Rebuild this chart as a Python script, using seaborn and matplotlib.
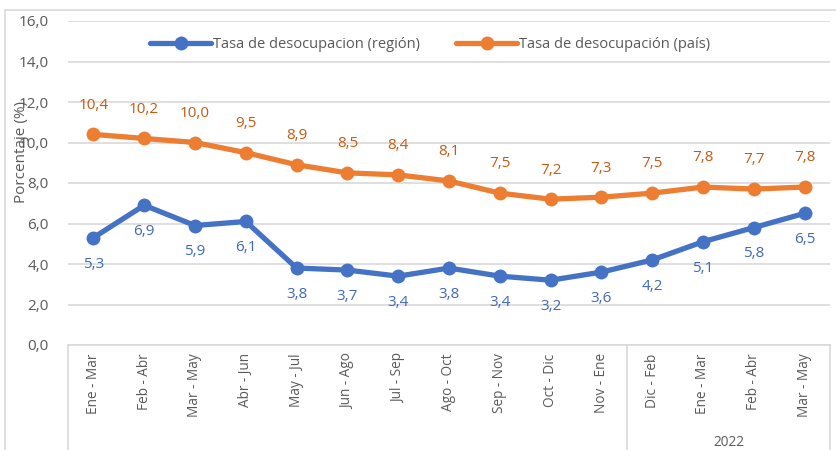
import matplotlib
matplotlib.use("Agg")
import matplotlib.pyplot as plt
import seaborn as sns
import pandas as pd
import numpy as np
from matplotlib.lines import Line2D

categories = ["Ene - Mar", "Feb - Abr", "Mar - May", "Abr - Jun", "May - Jul", "Jun - Ago",
              "Jul - Sep", "Ago - Oct", "Sep - Nov", "Oct - Dic", "Nov - Ene", "Dic - Feb",
              "Ene - Mar", "Feb - Abr", "Mar - May"]
region = [5.3, 6.9, 5.9, 6.1, 3.8, 3.7, 3.4, 3.8, 3.4, 3.2, 3.6, 4.2, 5.1, 5.8, 6.5]
pais = [10.4, 10.2, 10.0, 9.5, 8.9, 8.5, 8.4, 8.1, 7.5, 7.2, 7.3, 7.5, 7.8, 7.7, 7.8]
series_names = ["Tasa de desocupacion (región)", "Tasa de desocupación (país)"]
group_label = "2022"
group_start = 11
yticks = [0, 2, 4, 6, 8, 10, 12, 14, 16]

BLUE = "#4472C4"
ORANGE = "#ED7D31"
TXT = "#595959"
GRID = "#D9D9D9"

sns.set_theme(style="white")
plt.rcParams["font.family"] = ["Open Sans", "DejaVu Sans"]

idx = np.arange(len(categories))
df = pd.DataFrame({
    "x": np.concatenate([idx, idx]),
    "valor": region + pais,
    "serie": [series_names[0]] * len(idx) + [series_names[1]] * len(idx),
})

fig = plt.figure(figsize=(8.36, 4.5), dpi=100)
ax = fig.add_axes([68/836, 1-345/450, (830-68)/836, (345-21)/450])

sns.lineplot(data=df, x="x", y="valor", hue="serie",
             palette={series_names[0]: BLUE, series_names[1]: ORANGE},
             marker="o", markersize=10, markeredgewidth=0, linewidth=3.8,
             ax=ax, legend=False, zorder=3)

ax.set_xlim(-0.5, len(categories) - 0.5)
ax.set_ylim(0, 16)
ax.set_yticks(yticks)
ax.set_yticklabels([f"{v:.1f}".replace(".", ",") for v in yticks], color=TXT, fontsize=11)
ax.yaxis.grid(True, color=GRID, linewidth=1.2)
ax.set_axisbelow(True)
ax.tick_params(axis="y", length=0, pad=14)
ax.set_xticks(idx)
ax.set_xticklabels(categories, rotation=90, color=TXT, fontsize=9.8, va="top")
ax.tick_params(axis="x", length=0, pad=6)
ax.set_xlabel("")
ax.set_ylabel("")
for s in ["top", "right", "left"]:
    ax.spines[s].set_visible(False)
ax.spines["bottom"].set_color(GRID)
ax.spines["bottom"].set_linewidth(1.2)

# data labels
for i, v in enumerate(region):
    ax.annotate(f"{v:.1f}".replace(".", ","), (i, v), xytext=(0, -19), textcoords="offset points",
                ha="center", va="center", color="#3F69B5", fontsize=11)
for i, v in enumerate(pais):
    ax.annotate(f"{v:.1f}".replace(".", ","), (i, v), xytext=(0, 21), textcoords="offset points",
                ha="center", va="center", color="#C55A11", fontsize=11)

# category group lines
trans = ax.get_xaxis_transform()
for xv in [-0.5, group_start - 0.5, len(categories) - 0.5]:
    ax.plot([xv, xv], [0, -0.5], transform=trans, color=GRID, linewidth=1.2, clip_on=False)
ax.text((group_start + len(categories) - 1) / 2, -(442-345)/324, group_label, transform=trans,
        ha="center", va="center", color=TXT, fontsize=9.8)

# legend
handles = [Line2D([0], [0], color=BLUE, lw=3.8, marker="o", markersize=10, markeredgewidth=0),
           Line2D([0], [0], color=ORANGE, lw=3.8, marker="o", markersize=10, markeredgewidth=0)]
leg = ax.legend(handles, series_names, loc="center", bbox_to_anchor=(430/836, 1-45/450),
                bbox_transform=fig.transFigure, ncol=2, frameon=False, fontsize=10.5,
                handlelength=4.2, handletextpad=0.1, columnspacing=2.5)
for t in leg.get_texts():
    t.set_color(TXT)

fig.text(22/836, 1-152/450, "Porcentaje (%)", rotation=90, ha="center", va="center",
         color=TXT, fontsize=11)

# outer chart border
fig.add_artist(plt.Line2D([5/836, 5/836], [0, 1-10/450], color=GRID, lw=1.2, transform=fig.transFigure))
fig.add_artist(plt.Line2D([5/836, 1], [1-10/450, 1-10/450], color=GRID, lw=1.2, transform=fig.transFigure))

fig.savefig("out.png", dpi=100)
